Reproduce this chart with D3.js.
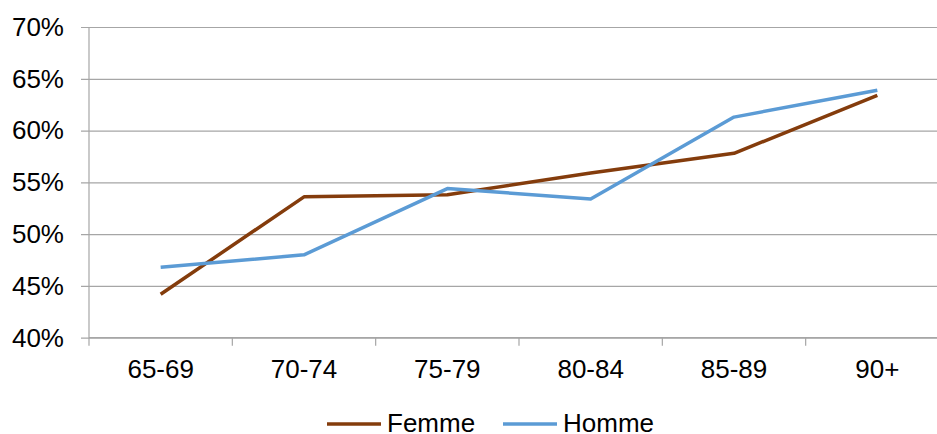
<!DOCTYPE html>
<html>
<head>
<meta charset="utf-8">
<script src="https://cdn.jsdelivr.net/npm/d3@7/dist/d3.min.js"></script>
<style>
  body { margin: 0; background: #fff; }
  svg text { font-family: "Liberation Sans", Arial, sans-serif; fill: #000; }
</style>
</head>
<body>
<div id="vis"></div>
<script>
var categories = ['65-69', '70-74', '75-79', '80-84', '85-89', '90+'];
var femme = [44.2, 53.6, 53.8, 55.9, 57.8, 63.4];
var homme = [46.8, 48.0, 54.4, 53.4, 61.3, 63.9];
var yTicks = [40, 45, 50, 55, 60, 65, 70];
var seriesNames = ['Femme', 'Homme'];

var width = 937;
var height = 434;
var plotLeft = 89, plotRight = 949, plotTop = 27, plotBottom = 337.7;

var colors = ['#843C0C', '#5B9BD5'];
var gridColor = '#a6a6a6';
var fontSize = 26;

var svg = d3.select('#vis')
  .append('svg')
  .attr('width', width)
  .attr('height', height);

var x = d3.scaleBand()
  .domain(categories)
  .range([plotLeft, plotRight])
  .padding(0);

var y = d3.scaleLinear()
  .domain([40, 70])
  .range([plotBottom, plotTop]);

// horizontal grid + y labels
var yAxis = d3.axisLeft(y)
  .tickValues(yTicks)
  .tickSize(-(plotRight - plotLeft))
  .tickPadding(25)
  .tickFormat(function (d) { return d + '%'; });

var gy = svg.append('g')
  .attr('transform', 'translate(' + plotLeft + ',0)')
  .call(yAxis);
gy.select('.domain').remove();
gy.selectAll('.tick line')
  .attr('x1', -8)
  .attr('stroke', gridColor)
  .attr('stroke-width', 1.2);
gy.selectAll('.tick text')
  .attr('font-size', fontSize)
  .attr('font-family', '"Liberation Sans", Arial, sans-serif');

// vertical axis line
svg.append('line')
  .attr('x1', plotLeft).attr('x2', plotLeft)
  .attr('y1', plotTop).attr('y2', plotBottom + 8)
  .attr('stroke', gridColor)
  .attr('stroke-width', 1.2);

// x axis
var boundaries = categories.map(function (c) { return x(c); });
var xAxis = d3.axisBottom(x).tickSize(0).tickPadding(22);
var gx = svg.append('g')
  .attr('transform', 'translate(0,' + plotBottom + ')')
  .call(xAxis);
gx.select('.domain').remove();
gx.selectAll('.tick text')
  .attr('font-size', fontSize)
  .attr('font-family', '"Liberation Sans", Arial, sans-serif');

svg.append('line')
  .attr('x1', plotLeft).attr('x2', plotRight)
  .attr('y1', plotBottom).attr('y2', plotBottom)
  .attr('stroke', gridColor)
  .attr('stroke-width', 1.2);

svg.selectAll('.xtick')
  .data(boundaries.slice(1))
  .enter().append('line')
  .attr('class', 'xtick')
  .attr('x1', function (d) { return d; })
  .attr('x2', function (d) { return d; })
  .attr('y1', plotBottom)
  .attr('y2', plotBottom + 8)
  .attr('stroke', gridColor)
  .attr('stroke-width', 1.2);

// lines
var line = d3.line()
  .x(function (d, i) { return x(categories[i]) + x.bandwidth() / 2; })
  .y(function (d) { return y(d); });

[femme, homme].forEach(function (s, i) {
  svg.append('path')
    .datum(s)
    .attr('fill', 'none')
    .attr('stroke', colors[i])
    .attr('stroke-width', 3.5)
    .attr('stroke-linejoin', 'round')
    .attr('d', line);
});

// legend
var legendX = [327, 503];
var legendY = 424;
seriesNames.forEach(function (name, i) {
  svg.append('line')
    .attr('x1', legendX[i]).attr('x2', legendX[i] + 54)
    .attr('y1', legendY).attr('y2', legendY)
    .attr('stroke', colors[i])
    .attr('stroke-width', 3.5);
  svg.append('text')
    .attr('x', legendX[i] + 60)
    .attr('y', legendY + 8)
    .attr('font-size', fontSize)
    .text(name);
});
</script>
</body>
</html>
